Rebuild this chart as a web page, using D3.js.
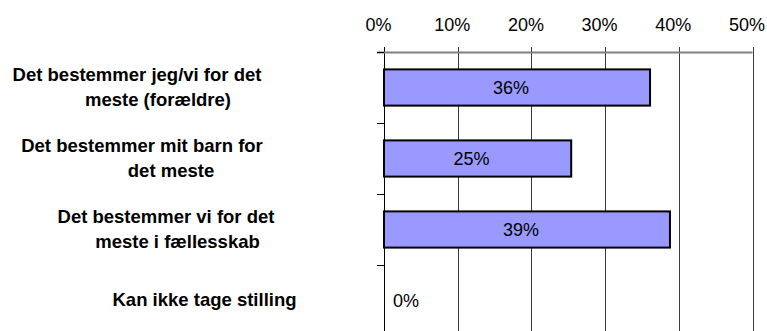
<!DOCTYPE html>
<html>
<head>
<meta charset="utf-8">
<script src="https://cdn.jsdelivr.net/npm/d3@7"></script>
<style>
  html, body { margin: 0; padding: 0; background: #fff; }
  svg { display: block; }
  text { font-family: "Liberation Sans", Arial, Helvetica, sans-serif; fill: #000; }
</style>
</head>
<body>
<div id="chart"></div>
<script>
// ---- data ----
const categories = [
  "Det bestemmer jeg/vi for det meste (forældre)",
  "Det bestemmer mit barn for det meste",
  "Det bestemmer vi for det meste i fællesskab",
  "Kan ikke tage stilling"
];
const categoryLines = [
  ["Det bestemmer jeg/vi for det", "meste (forældre)"],
  ["Det bestemmer mit barn for", "det meste"],
  ["Det bestemmer vi for det", "meste i fællesskab"],
  ["Kan ikke tage stilling"]
];
const values = [0.361, 0.254, 0.388, 0];
const tickValues = [0, 0.1, 0.2, 0.3, 0.4, 0.5];

// ---- layout (not data) ----
const W = 767, H = 331;
const lineCenters = [[137, 158], [142, 171], [166, 177.5], [204.5]];

const svg = d3.select("#chart").append("svg").attr("width", W).attr("height", H);

const x = d3.scaleLinear().domain([0, 0.5]).range([384, 752.5]);
const y = d3.scaleBand().domain(categories).range([52, 336])
  .paddingInner(0.49).paddingOuter(0.245);
const fmt = d3.format(".0%");

// gridlines
svg.append("g").selectAll("line").data(tickValues).join("line")
  .attr("x1", d => Math.round(x(d)) + 0.5).attr("x2", d => Math.round(x(d)) + 0.5)
  .attr("y1", 47).attr("y2", H)
  .attr("stroke", (d, i) => i === 0 ? "#000" : "#3a3a3a").attr("stroke-width", 1);

// horizontal axis line
svg.append("line")
  .attr("x1", x(0) - 7).attr("x2", x(0.5)).attr("y1", 52.5).attr("y2", 52.5)
  .attr("stroke", "#808080").attr("stroke-width", 2);

// top axis labels
const xAxis = d3.axisTop(x).tickValues(tickValues).tickFormat(fmt).tickSize(0).tickPadding(0);
const gx = svg.append("g").attr("transform", "translate(0,31)").call(xAxis);
gx.select(".domain").remove();
gx.selectAll("text").attr("font-size", 18).attr("dx", -6).attr("dy", 0)
  .style("font-family", '"Liberation Sans", Arial, sans-serif');

// y axis ticks at band boundaries
const step = y.step();
const bounds = categories.map(c => y(c) - (step - y.bandwidth()) / 2);
svg.append("g").selectAll("line").data(bounds).join("line")
  .attr("x1", x(0) - 7).attr("x2", x(0))
  .attr("y1", d => Math.round(d) + 0.5).attr("y2", d => Math.round(d) + 0.5)
  .attr("stroke", "#000").attr("stroke-width", 1);

// bars
svg.append("g").selectAll("rect").data(values.map((v, i) => ({v, c: categories[i]})))
  .join("rect")
  .filter(d => d.v > 0)
  .attr("x", x(0)).attr("y", d => y(d.c))
  .attr("width", d => x(d.v) - x(0)).attr("height", y.bandwidth())
  .attr("fill", "#9999FF").attr("stroke", "#000").attr("stroke-width", 2);

// value labels
svg.append("g").selectAll("text").data(values.map((v, i) => ({v, c: categories[i]})))
  .join("text")
  .attr("x", d => d.v > 0.05 ? (x(0) + x(d.v)) / 2 - 6 : x(0) + 9)
  .attr("y", d => y(d.c) + y.bandwidth() / 2 + 6)
  .attr("text-anchor", d => d.v > 0.05 ? "middle" : "start")
  .attr("font-size", 18)
  .text(d => fmt(d.v));

// category labels
categoryLines.forEach((lines, i) => {
  const c = y(categories[i]) + y.bandwidth() / 2;
  const offs = lines.length === 2 ? [-7, 18] : [5];
  lines.forEach((ln, j) => {
    svg.append("text")
      .attr("x", lineCenters[i][j]).attr("y", c + offs[j])
      .attr("text-anchor", "middle")
      .attr("font-size", 18.5).attr("font-weight", "bold")
      .text(ln);
  });
});
</script>
</body>
</html>
